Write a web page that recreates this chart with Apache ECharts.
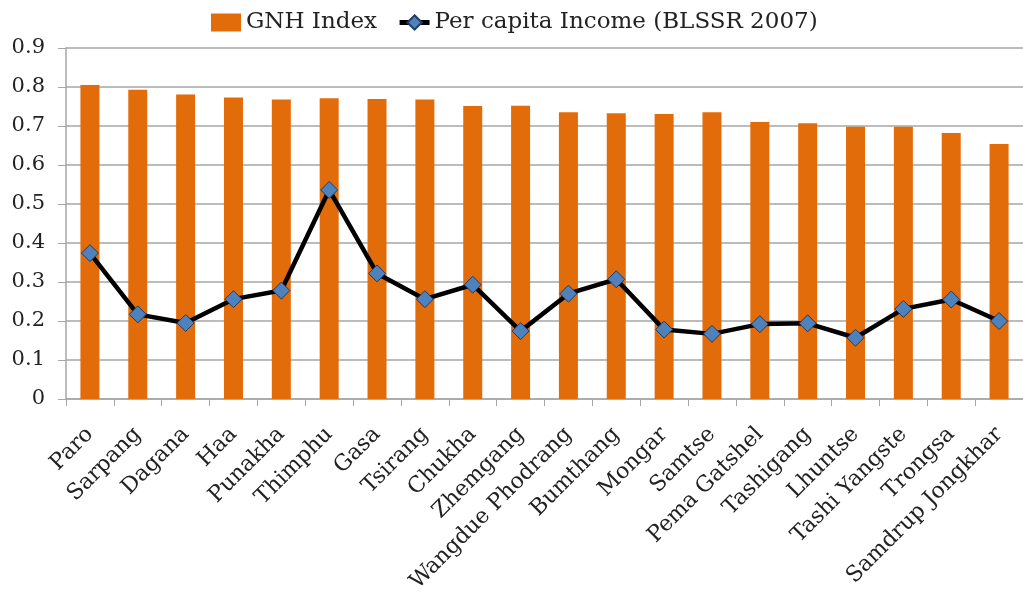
<!DOCTYPE html>
<html>
<head>
<meta charset="utf-8">
<script src="https://cdn.jsdelivr.net/npm/echarts@6/dist/echarts.min.js"></script>
<style>
  html, body { margin: 0; padding: 0; background: #fff; }
  #chart { width: 1023px; height: 597px; }
</style>
</head>
<body>
<div id="chart"></div>
<script>
// districts, left to right
var districts = ['Paro', 'Sarpang', 'Dagana', 'Haa', 'Punakha', 'Thimphu', 'Gasa', 'Tsirang',
  'Chukha', 'Zhemgang', 'Wangdue Phodrang', 'Bumthang', 'Mongar', 'Samtse', 'Pema Gatshel',
  'Tashigang', 'Lhuntse', 'Tashi Yangste', 'Trongsa', 'Samdrup Jongkhar']

var gnhIndex = [0.805, 0.793, 0.781, 0.773, 0.768, 0.771, 0.769, 0.768, 0.751, 0.752,
  0.735, 0.733, 0.731, 0.735, 0.710, 0.707, 0.698, 0.698, 0.682, 0.654]

var incomeBlssr = [0.374, 0.217, 0.195, 0.256, 0.278, 0.536, 0.322, 0.256, 0.293, 0.174,
  0.270, 0.307, 0.178, 0.167, 0.192, 0.194, 0.157, 0.231, 0.255, 0.200]

var yTicks = { min: 0, max: 0.9, interval: 0.1 }

var font = '"DejaVu Serif", serif'

var chart = echarts.init(document.getElementById('chart'))
chart.setOption({
  animation: false,
  textStyle: { fontFamily: font },
  legend: {
    top: 6,
    left: 206,
    itemGap: 20,
    itemWidth: 30,
    itemHeight: 18,
    textStyle: { fontFamily: font, fontSize: 23, color: '#222' },
    data: [
      { name: 'GNH Index', icon: 'rect' },
      { name: 'Per capita Income (BLSSR 2007)', lineStyle: { color: '#000', width: 5 } }
    ]
  },
  grid: {
    left: 66,
    top: 48,
    width: 963,
    height: 351
  },
  xAxis: {
    type: 'category',
    data: districts,
    boundaryGap: true,
    axisLine: { lineStyle: { color: '#a6a6a6', width: 1.5 } },
    axisTick: { show: true, alignWithLabel: false, length: 7, lineStyle: { color: '#a6a6a6' } },
    axisLabel: {
      interval: 0,
      rotate: 45,
      margin: 32,
      fontFamily: font,
      fontSize: 22,
      color: '#222'
    }
  },
  yAxis: {
    type: 'value',
    min: yTicks.min,
    max: yTicks.max,
    interval: yTicks.interval,
    axisLine: { show: true, lineStyle: { color: '#a6a6a6', width: 1.5 } },
    axisTick: { show: true, length: 8, lineStyle: { color: '#a6a6a6' } },
    axisLabel: {
      margin: 21,
      fontFamily: font,
      fontSize: 21,
      color: '#222',
      formatter: function (v) { return v === 0 ? '0' : v.toFixed(1) }
    },
    splitLine: { lineStyle: { color: '#a6a6a6', width: 1.5 } }
  },
  series: [
    {
      name: 'GNH Index',
      type: 'bar',
      data: gnhIndex,
      barWidth: 19,
      itemStyle: { color: '#e36c0a' }
    },
    {
      name: 'Per capita Income (BLSSR 2007)',
      type: 'line',
      data: incomeBlssr,
      symbol: 'diamond',
      symbolSize: 17,
      lineStyle: { color: '#000', width: 4.5 },
      itemStyle: { color: '#4f81bd', borderColor: '#1f3c63', borderWidth: 1 },
      z: 5
    }
  ]
})
</script>
</body>
</html>
